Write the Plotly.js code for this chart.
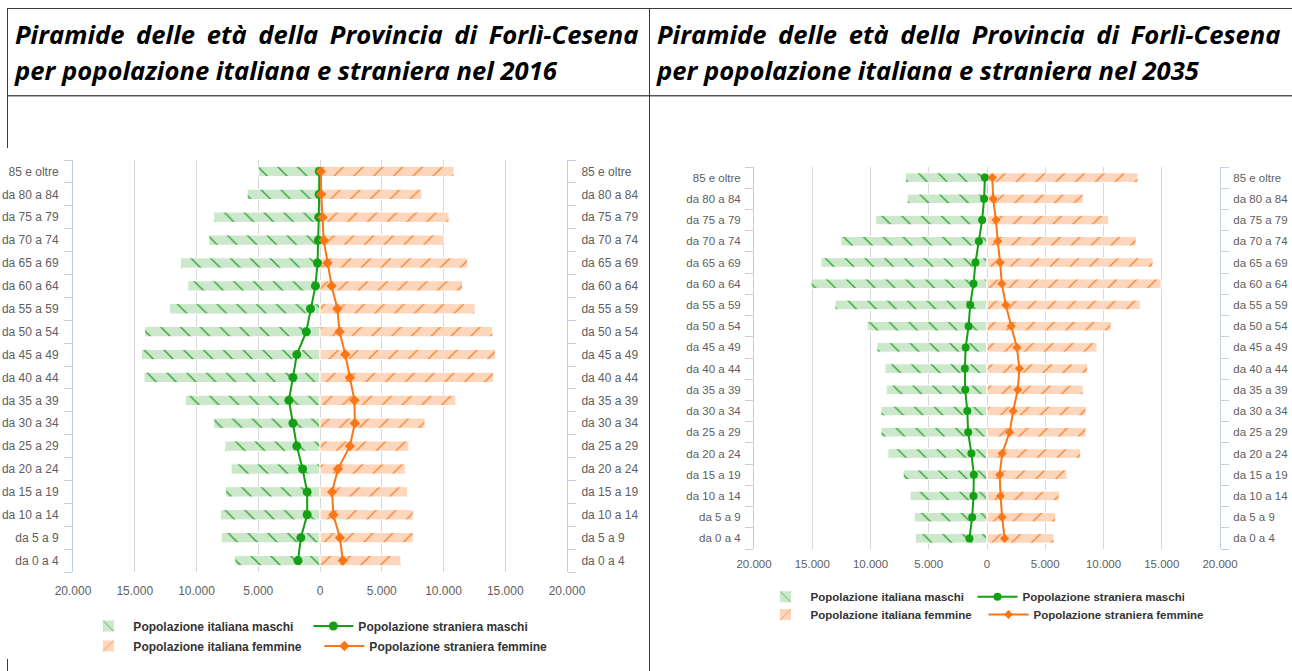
<!DOCTYPE html>
<html><head><meta charset="utf-8">
<script src="https://cdn.plot.ly/plotly-3.0.1.min.js"></script>
<style>
html,body{margin:0;padding:0;background:#fff;width:1292px;height:671px;overflow:hidden;}
body{position:relative;}
.ln{position:absolute;background:#3a3a3a;}
.ttl{position:absolute;font-family:"Open Sans","Noto Sans",sans-serif;font-weight:700;font-style:italic;color:#000;line-height:36px;}
.ttl .l1{text-align:justify;text-align-last:justify;width:623.5px;}
.ttl .l2{white-space:nowrap;}
.chart{position:absolute;}
</style></head><body>
<div class="ln" style="left:7px;top:8px;width:1285px;height:1px"></div>
<div class="ln" style="left:7px;top:95px;width:1285px;height:1px;background:#555"></div>
<div class="ln" style="left:7px;top:96px;width:1285px;height:1px;background:#b0b0b0"></div>
<div class="ln" style="left:7px;top:8px;width:1px;height:663px"></div>
<div class="ln" style="left:649px;top:8px;width:1px;height:663px"></div>

<div class="ttl" id="t1" style="left:15px;top:17px;"><div class="l1">Piramide delle età della Provincia di Forlì-Cesena</div><div class="l2">per popolazione italiana e straniera nel 2016</div></div>
<div class="ttl" id="t2" style="left:657px;top:17px;"><div class="l1">Piramide delle età della Provincia di Forlì-Cesena</div><div class="l2">per popolazione italiana e straniera nel 2035</div></div>

<div class="chart" id="c1" style="left:0px;top:148px;width:648px;height:511px;"></div>
<div class="chart" id="c2" style="left:651px;top:150px;width:641px;height:480px;"></div>

<script>
// ---- data ----
var categories = ["da 0 a 4","da 5 a 9","da 10 a 14","da 15 a 19","da 20 a 24","da 25 a 29","da 30 a 34","da 35 a 39","da 40 a 44","da 45 a 49","da 50 a 54","da 55 a 59","da 60 a 64","da 65 a 69","da 70 a 74","da 75 a 79","da 80 a 84","85 e oltre"];

var italianiMaschi2016 = [6900,8000,8050,7650,7200,7700,8600,10900,14250,14450,14200,12200,10700,11300,9000,8600,5900,5000];
var italianiFemmine2016 = [6550,7550,7550,7100,6900,7200,8500,11000,14050,14200,14000,12550,11550,11950,10050,10450,8250,10850];
var stranieriMaschi2016 = [1780,1550,1040,1040,1410,1880,2190,2520,2190,1880,1110,770,370,200,130,100,70,60];
var stranieriFemmine2016 = [1850,1610,1080,980,1450,2420,2820,2790,2420,2050,1580,1410,940,600,300,200,100,70];

var italianiMaschi2035 = [6150,6250,6600,7200,8500,9100,9100,8650,8750,9450,10300,13050,15100,14250,12550,9550,6850,7000];
var italianiFemmine2035 = [5750,5900,6200,6850,8050,8500,8500,8250,8650,9450,10650,13150,14950,14250,12800,10450,8250,12950];
var stranieriMaschi2035 = [1510,1270,1160,1130,1340,1620,1690,1870,1900,1830,1580,1440,1160,990,700,420,250,180];
var stranieriFemmine2035 = [1510,1300,1160,1090,1300,1940,2250,2640,2780,2570,2080,1620,1270,1130,920,770,530,460];

var tickValues = [-20000,-15000,-10000,-5000,0,5000,10000,15000,20000];
var tickLabels = ["20.000","15.000","10.000","5.000","0","5.000","10.000","15.000","20.000"];

var seriesNames = ["Popolazione italiana maschi","Popolazione italiana femmine","Popolazione straniera maschi","Popolazione straniera femmine"];

// ---- title font fit ----
(function(){
  var probe = document.createElement('span');
  probe.className='ttl';
  probe.style.position='absolute'; probe.style.visibility='hidden'; probe.style.whiteSpace='nowrap';
  probe.style.fontSize='100px';
  document.body.appendChild(probe);
  probe.textContent = "per popolazione italiana e straniera nel 2016";
  var w2 = probe.getBoundingClientRect().width;
  probe.textContent = "Piramide delle età della Provincia di Forlì-Cesena";
  var w1 = probe.getBoundingClientRect().width;
  document.body.removeChild(probe);
  var fs = Math.min(100*542/w2, 100*600/w1);
  document.getElementById('t1').style.fontSize = fs+'px';
  document.getElementById('t2').style.fontSize = fs+'px';
})();

var GREEN_LINE = '#14a014', ORANGE_LINE = '#f97716';
var labelFont = "Liberation Sans, Arial, sans-serif";

function makeChart(id, im, ifm, sm, sf, opt){
  var traces = [
    {type:'bar', orientation:'h', name:seriesNames[0], y:categories, x:im.map(function(v){return -v;}),
     marker:{color:'#cbe8cb', line:{color:'#ffffff', width:1},
       pattern:{shape:'\\', fgcolor:'#2f9c2f', bgcolor:'#cbe8cb', size:14, solidity:0.09, fillmode:'replace'}},
     legend:'legend', legendrank:1, hoverinfo:'skip'},
    {type:'bar', orientation:'h', name:seriesNames[1], y:categories, x:ifm,
     marker:{color:'#fdd6bc', line:{color:'#ffffff', width:1},
       pattern:{shape:'/', fgcolor:'#f5802c', bgcolor:'#fdd6bc', size:14, solidity:0.09, fillmode:'replace'}},
     legend:'legend2', legendrank:1, hoverinfo:'skip'},
    {type:'scatter', mode:'lines+markers', name:seriesNames[2], y:categories, x:sm.map(function(v){return -v;}), yaxis:'y2',
     line:{color:GREEN_LINE, width:2}, marker:{symbol:'circle', size:opt.msize, color:GREEN_LINE},
     legend:'legend', legendrank:2, hoverinfo:'skip'},
    {type:'scatter', mode:'lines+markers', name:seriesNames[3], y:categories, x:sf, yaxis:'y2',
     line:{color:ORANGE_LINE, width:2}, marker:{symbol:'diamond', size:opt.msize-1, color:ORANGE_LINE},
     legend:'legend2', legendrank:2, hoverinfo:'skip'}
  ];
  var yax = {
    type:'category', categoryorder:'array', categoryarray:categories, range:[-0.5, categories.length-0.5],
    showline:true, linecolor:'#c0d0e0', linewidth:1, ticks:'outside', ticklen:8, tickcolor:'#c0d0e0', tickwidth:1,
    tickson:'boundaries', showgrid:false, zeroline:false, fixedrange:true,
    tickfont:{family:labelFont, size:opt.tfs, color:'#606060'}, ticklabelstandoff:opt.ystand
  };
  var yax2 = JSON.parse(JSON.stringify(yax));
  yax2.overlaying='y'; yax2.side='right'; yax2.anchor='x';
  var legFont = {family:labelFont, size:opt.lfs, color:'#333333', weight:'bold'};
  var layout = {
    width:opt.w, height:opt.h, margin:{l:opt.l, r:opt.r, t:opt.t, b:opt.b, autoexpand:false},
    paper_bgcolor:'#ffffff', plot_bgcolor:'#ffffff',
    barmode:'overlay', bargap:opt.bargap,
    xaxis:{range:[-20000,20000], tickmode:'array', tickvals:tickValues, ticktext:tickLabels,
      showgrid:true, gridcolor:'#d8d8d8', gridwidth:1, zeroline:false, showline:false, ticks:'', fixedrange:true,
      tickfont:{family:labelFont, size:opt.tfs, color:'#606060'}, ticklabelstandoff:opt.xstand},
    yaxis:yax, yaxis2:yax2,
    showlegend:true,
    legend:{orientation:'h', x:opt.lx, xanchor:'left', y:opt.ly1, yanchor:'top',
      entrywidth:opt.ew1, entrywidthmode:'pixels', itemwidth:40, traceorder:'normal',
      font:legFont, bgcolor:'rgba(0,0,0,0)'},
    legend2:{orientation:'h', x:opt.lx, xanchor:'left', y:opt.ly2, yanchor:'top',
      entrywidth:opt.ew2, entrywidthmode:'pixels', itemwidth:40, traceorder:'normal',
      font:legFont, bgcolor:'rgba(0,0,0,0)'}
  };
  Plotly.newPlot(id, traces, layout, {displayModeBar:false, staticPlot:true});
}

makeChart('c1', italianiMaschi2016, italianiFemmine2016, stranieriMaschi2016, stranieriFemmine2016,
  {w:648, h:511, l:72.7, r:80.5, t:12.3, b:86.5, bargap:0.55, tfs:12, lfs:12, ystand:11, xstand:10,
   lx:0.021, ly1:-0.0958, ly2:-0.1443, ew1:170, ew2:181, msize:9});
makeChart('c2', italianiMaschi2035, italianiFemmine2035, stranieriMaschi2035, stranieriFemmine2035,
  {w:641, h:480, l:103.4, r:71.6, t:17, b:81, bargap:0.55, tfs:11.5, lfs:11.5, ystand:10, xstand:6,
   lx:0.014, ly1:-0.0872, ly2:-0.1335, ew1:157, ew2:168, msize:8});
</script>
</body></html>
